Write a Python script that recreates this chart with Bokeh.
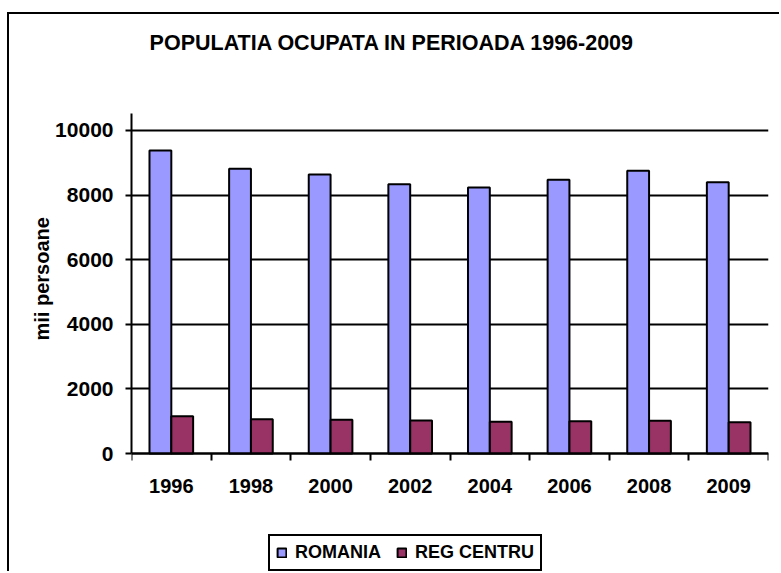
from bokeh.plotting import figure
from bokeh.models import (ColumnDataSource, Range1d, FixedTicker, Legend,
                          LegendItem, Label, Title)
from bokeh.transform import dodge
from bokeh.embed import file_html
from bokeh.resources import INLINE

# ---- data ----
years = ["1996", "1998", "2000", "2002", "2004", "2006", "2008", "2009"]
romania = [9381, 8814, 8638, 8337, 8235, 8473, 8752, 8399]
reg_centru = [1155, 1062, 1043, 1022, 981, 1000, 1011, 969]
y_ticks = [0, 2000, 4000, 6000, 8000, 10000]

title_text = "POPULATIA OCUPATA IN PERIOADA 1996-2009"
y_label = "mii persoane"
series_names = ["ROMANIA", "REG CENTRU"]
colors = ["#9999FF", "#993366"]

FONT = "Liberation Sans"

n = len(years)
centers = [i + 0.5 for i in range(n)]
bounds = list(range(n + 1))
src = ColumnDataSource(dict(x=centers, year=years, romania=romania, reg=reg_centru))

# frame covers the whole chart area; the value axis is limited to 0..10526
p = figure(width=772, height=559,
           x_range=Range1d(0, n),
           y_range=Range1d(-3715, 13591),
           output_backend="svg", toolbar_location=None,
           title=None,
           min_border_left=122, min_border_right=13,
           min_border_top=0, min_border_bottom=0)

p.styles = {"border-left": "2px solid black", "border-top": "2px solid black",
            "margin-top": "12px", "margin-left": "7px"}

p.outline_line_color = None
p.background_fill_color = "white"
p.border_fill_color = "white"

bw = 0.274
r1 = p.vbar(x=dodge("x", -bw / 2), top="romania", width=bw,
            source=src, fill_color=colors[0], line_color="black", line_width=2)
r2 = p.vbar(x=dodge("x", bw / 2), top="reg", width=bw,
            source=src, fill_color=colors[1], line_color="black", line_width=2)

# y axis
ya = p.yaxis[0]
ya.bounds = (0, 10526)
ya.ticker = FixedTicker(ticks=y_ticks)
ya.major_tick_out = 6
ya.major_tick_in = 0
ya.minor_tick_line_color = None
ya.major_tick_line_width = 2
ya.axis_line_width = 2
ya.major_label_text_font = FONT
ya.major_label_text_font_style = "bold"
ya.major_label_text_font_size = "21px"
ya.major_label_text_color = "black"
ya.major_label_standoff = 12

# y axis title (vertical, placed beside the tick labels)
ylab = Title(text=y_label, align="left", offset=233, standoff=0,
             vertical_align="bottom",
             text_font=FONT, text_font_style="bold", text_font_size="20px",
             text_color="black")
p.add_layout(ylab, "left")

p.ygrid.ticker = FixedTicker(ticks=y_ticks)
p.ygrid.grid_line_color = "black"
p.ygrid.grid_line_width = 2
p.xgrid.grid_line_color = None

# x axis at value 0: labels at category centres, tick marks at boundaries
xa = p.xaxis[0]
xa.fixed_location = 0
xa.ticker = FixedTicker(ticks=centers, minor_ticks=bounds)
xa.major_label_overrides = {c: y for c, y in zip(centers, years)}
xa.major_tick_line_color = None
xa.major_tick_out = 7
xa.major_tick_in = 0
xa.minor_tick_line_color = "black"
xa.minor_tick_line_width = 2
xa.minor_tick_out = 7
xa.minor_tick_in = 0
xa.axis_line_width = 2
xa.major_label_text_font = FONT
xa.major_label_text_font_style = "bold"
xa.major_label_text_font_size = "20px"
xa.major_label_text_color = "black"
xa.major_label_standoff = 18

# chart title
title = Label(x=3.278, y=12709, text=title_text,
              text_align="center", text_baseline="middle",
              text_font=FONT, text_font_style="bold", text_font_size="21.5px",
              text_color="black")
p.add_layout(title)

legend = Legend(items=[LegendItem(label=series_names[0], renderers=[r1]),
                       LegendItem(label=series_names[1], renderers=[r2])],
                orientation="horizontal", location=(137, 2),
                glyph_width=11, glyph_height=11,
                label_text_font=FONT, label_text_font_style="bold",
                label_text_font_size="18px", label_text_color="black",
                label_standoff=8, spacing=15, padding=6, margin=0,
                border_line_color="black", border_line_width=2,
                border_line_alpha=1,
                background_fill_color="white", background_fill_alpha=1)
p.add_layout(legend, "center")

open("out.html", "w").write(file_html(p, INLINE))
